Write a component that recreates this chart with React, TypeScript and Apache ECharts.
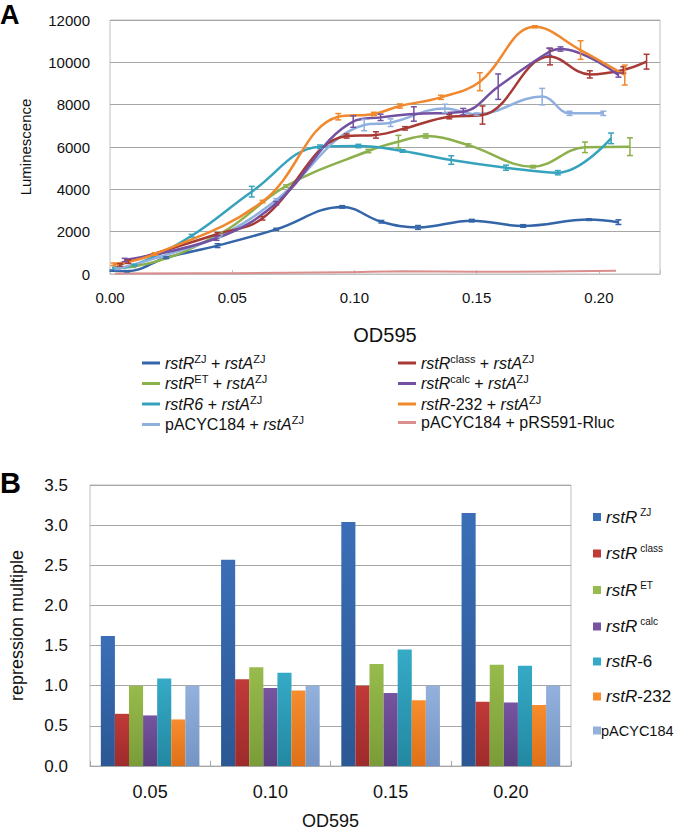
import React, { useEffect, useRef } from "react";
import * as echarts from "echarts";

const FONT = "'Liberation Sans', Arial, sans-serif";

// ---------- Panel A data: [OD595, luminescence, error half-width] ----------
const rstRZJ = [[0.001,160,30],[0.007,130,30],[0.023,770,40],[0.044,1340,90],[0.068,2110,50],[0.095,3170,60],[0.111,2470,60],[0.126,2200,90],[0.148,2520,60],[0.169,2270,60],[0.196,2570,40],[0.208,2450,110]];
const rstRClass = [[0.004,430,60],[0.0075,580,80],[0.044,1890,60],[0.0624,2630,80],[0.0968,6520,100],[0.1088,6570,150],[0.1207,6880,80],[0.1388,7430,100],[0.1524,7510,430],[0.18,10270,390],[0.1963,9430,170],[0.21,9640,150],[0.2195,10030,350]];
const rstRET = [[0.003,300,40],[0.0095,350,40],[0.045,1900,60],[0.072,4150,60],[0.1057,5810,80],[0.118,6250,300],[0.1292,6520,100],[0.1466,6090,60],[0.1731,5070,60],[0.1943,5985,250],[0.2127,6015,420]];
const rstRCalc = [[0.006,660,80],[0.0436,1690,100],[0.068,3340,80],[0.0995,7200,270],[0.1107,7400,150],[0.1243,7560,340],[0.1445,7670,150],[0.1588,8850,600],[0.1797,10500,170],[0.1843,10630,100],[0.208,9400,100]];
const rstR6 = [[0.002,280,40],[0.01,420,40],[0.0334,1810,60],[0.058,3890,250],[0.0859,6015,80],[0.1016,6047,80],[0.1197,5810,60],[0.1396,5385,200],[0.162,5022,120],[0.1832,4786,100],[0.205,6410,250]];
const rstR232 = [[0.0014,460,60],[0.0184,945,60],[0.0624,3420,60],[0.0934,7430,150],[0.108,7560,80],[0.1186,7936,100],[0.1354,8347,100],[0.1513,9085,425],[0.1738,11680,50],[0.1925,10580,440],[0.2106,9400,470]];
const pACYCrstA = [[0.003,250,40],[0.02,800,40],[0.045,1800,60],[0.068,3500,60],[0.104,7040,270],[0.1148,7150,180],[0.137,7820,200],[0.15,7550,60],[0.1768,8380,390],[0.188,7590,100],[0.2018,7590,100]];
const pACYCpRS = [[0.002,20,0],[0.05,40,0],[0.095,80,0],[0.12,130,0],[0.15,110,0],[0.18,120,0],[0.207,150,0]];

const xTicksA = [0, 0.05, 0.1, 0.15, 0.2];

// ---------- Panel B data ----------
const odCategories = ["0.05", "0.10", "0.15", "0.20"];
const barZJ = [1.62, 2.57, 3.04, 3.15];
const barClass = [0.65, 1.08, 1.0, 0.8];
const barET = [1.0, 1.23, 1.27, 1.26];
const barCalc = [0.63, 0.97, 0.91, 0.79];
const bar6 = [1.09, 1.16, 1.45, 1.25];
const bar232 = [0.58, 0.94, 0.82, 0.76];
const barPACYC = [1.0, 1.0, 1.0, 1.0];

const lineSeriesDefs = [
  { name: "zj", data: rstRZJ, color: "#3365A8", label: "{i|rstR}{s|ZJ}{n| + }{i|rstA}{s|ZJ}" },
  { name: "et", data: rstRET, color: "#8CB04C", label: "{i|rstR}{s|ET}{n| + }{i|rstA}{s|ZJ}" },
  { name: "r6", data: rstR6, color: "#36A3BD", label: "{i|rstR6}{n| + }{i|rstA}{s|ZJ}" },
  { name: "pa", data: pACYCrstA, color: "#8FB0DE", label: "{n|pACYC184 + }{i|rstA}{s|ZJ}" },
  { name: "class", data: rstRClass, color: "#A83A36", label: "{i|rstR}{s|class}{n| + }{i|rstA}{s|ZJ}" },
  { name: "calc", data: rstRCalc, color: "#7350A0", label: "{i|rstR}{s|calc}{n| + }{i|rstA}{s|ZJ}" },
  { name: "232", data: rstR232, color: "#F0882E", label: "{i|rstR}{n|-232 + }{i|rstA}{s|ZJ}" },
  { name: "prs", data: pACYCpRS, color: "#DA8E8E", label: "{n|pACYC184 + pRS591-Rluc}" },
];

const barSeriesDefs = [
  { name: "bZJ", data: barZJ, top: "#3A6FB8", bottom: "#2B5793", label: "{i|rstR}{s|ZJ}" },
  { name: "bClass", data: barClass, top: "#C03A38", bottom: "#9E2B2B", label: "{i|rstR}{s|class}" },
  { name: "bET", data: barET, top: "#97BB4C", bottom: "#7A9C38", label: "{i|rstR}{s|ET}" },
  { name: "bCalc", data: barCalc, top: "#7654A0", bottom: "#5A3F80", label: "{i|rstR}{s|calc}" },
  { name: "b6", data: bar6, top: "#35AAC6", bottom: "#2388A2", label: "{i|rstR}{n|-6}" },
  { name: "b232", data: bar232, top: "#F78D2E", bottom: "#DF7018", label: "{i|rstR}{n|-232}" },
  { name: "bPA", data: barPACYC, top: "#93B1DC", bottom: "#7494C4", label: "{p|pACYC184}" },
];

export default function App() {
  const ref = useRef<HTMLDivElement>(null);
  useEffect(() => {
    if (!ref.current) return;
    const chart = echarts.init(ref.current, undefined, { renderer: "svg" });

    const labelMap: Record<string, string> = {};
    lineSeriesDefs.forEach((d) => (labelMap[d.name] = d.label));
    barSeriesDefs.forEach((d) => (labelMap[d.name] = d.label));

    const richA = {
      i: { fontFamily: FONT, fontSize: 16, fontStyle: "italic", lineHeight: 20, color: "#111" },
      n: { fontFamily: FONT, fontSize: 16, lineHeight: 20, color: "#111" },
      s: { fontFamily: FONT, fontSize: 11, lineHeight: 10, verticalAlign: "top", color: "#111" },
    };
    const richB = {
      i: { fontFamily: FONT, fontSize: 17, fontStyle: "italic", lineHeight: 20, color: "#111" },
      n: { fontFamily: FONT, fontSize: 17, lineHeight: 20, color: "#111" },
      p: { fontFamily: FONT, fontSize: 14.5, lineHeight: 20, color: "#111", padding: [0, 0, 0, -5] },
      s: { fontFamily: FONT, fontSize: 10, lineHeight: 8, verticalAlign: "top", color: "#111", padding: [0, 0, 0, 3] },
    };

    const lineSeries: any[] = [];
    const errSeries: any[] = [];
    lineSeriesDefs.forEach((d) => {
      lineSeries.push({
        name: d.name,
        type: "line",
        xAxisIndex: 0,
        yAxisIndex: 0,
        data: d.data.map((p) => [p[0], p[1]]),
        smooth: 0.4,
        showSymbol: false,
        symbol: "none",
        lineStyle: { color: d.color, width: d.name === "prs" ? 2 : 2.5 },
        itemStyle: { color: d.color },
        z: 3,
      });
      const errData = d.data.filter((p) => p[2] > 0).map((p) => [p[0], p[1] - p[2], p[1] + p[2]]);
      if (errData.length) {
        errSeries.push({
          name: d.name + "-err",
          type: "custom",
          xAxisIndex: 0,
          yAxisIndex: 0,
          data: errData,
          encode: { x: 0, y: [1, 2] },
          z: 4,
          renderItem: (params: any, api: any) => {
            const x = api.value(0);
            const p1 = api.coord([x, api.value(1)]);
            const p2 = api.coord([x, api.value(2)]);
            const w = 3;
            const st = { stroke: d.color, lineWidth: 1.5 };
            return {
              type: "group",
              children: [
                { type: "line", shape: { x1: p1[0], y1: p1[1], x2: p2[0], y2: p2[1] }, style: st },
                { type: "line", shape: { x1: p1[0] - w, y1: p1[1], x2: p1[0] + w, y2: p1[1] }, style: st },
                { type: "line", shape: { x1: p2[0] - w, y1: p2[1], x2: p2[0] + w, y2: p2[1] }, style: st },
              ],
            };
          },
        });
      }
    });

    const barSeries = barSeriesDefs.map((d) => ({
      name: d.name,
      type: "bar",
      xAxisIndex: 1,
      yAxisIndex: 1,
      data: d.data,
      barGap: "0%",
      barCategoryGap: "18%",
      itemStyle: {
        color: new echarts.graphic.LinearGradient(0, 0, 0, 1, [
          { offset: 0, color: d.top },
          { offset: 1, color: d.bottom },
        ]),
      },
    }));

    const xTickSet = xTicksA;
    const option: any = {
      animation: false,
      textStyle: { fontFamily: FONT },
      grid: [
        { left: 110, top: 20, width: 550, height: 254, show: true, borderColor: "#BFBFBF", borderWidth: 1 },
        { left: 89, top: 485, width: 482, height: 292, show: true, borderColor: "#BFBFBF", borderWidth: 1 },
      ],
      xAxis: [
        {
          type: "value",
          gridIndex: 0,
          min: 0,
          max: 0.225,
          interval: 0.05,
          name: "OD595",
          nameLocation: "middle",
          nameGap: 51,
          nameTextStyle: { fontFamily: FONT, fontSize: 20, color: "#111" },
          axisLine: { show: true, lineStyle: { color: "#BFBFBF" } },
          axisTick: { show: true, inside: true, length: 4, lineStyle: { color: "#BFBFBF" } },
          splitLine: { show: false },
          axisLabel: {
            fontFamily: FONT,
            fontSize: 15,
            color: "#111",
            margin: 16,
            formatter: (v: number) => (xTickSet.some((t) => Math.abs(t - v) < 1e-9) ? v.toFixed(2) : ""),
          },
        },
        {
          type: "category",
          gridIndex: 1,
          data: odCategories,
          name: "OD595",
          nameLocation: "middle",
          nameGap: 46,
          nameTextStyle: { fontFamily: FONT, fontSize: 18, color: "#111" },
          axisLine: { show: true, lineStyle: { color: "#A6A6A6" } },
          axisTick: { show: true, inside: true, length: 5, lineStyle: { color: "#A6A6A6" } },
          axisLabel: { fontFamily: FONT, fontSize: 18, color: "#111", margin: 17 },
        },
      ],
      yAxis: [
        {
          type: "value",
          gridIndex: 0,
          min: 0,
          max: 12000,
          interval: 2000,
          name: "Luminescence",
          nameLocation: "middle",
          nameGap: 77,
          nameRotate: 90,
          nameTextStyle: { fontFamily: FONT, fontSize: 15, color: "#111" },
          axisLine: { show: false },
          axisTick: { show: false },
          splitLine: { show: true, lineStyle: { color: "#A6A6A6", width: 1 } },
          axisLabel: { fontFamily: FONT, fontSize: 15, color: "#111", margin: 20, formatter: (v: number) => String(Math.round(v)) },
        },
        {
          type: "value",
          gridIndex: 1,
          min: 0,
          max: 3.5,
          interval: 0.5,
          name: "repression multiple",
          nameLocation: "middle",
          nameGap: 64,
          nameRotate: 90,
          nameTextStyle: { fontFamily: FONT, fontSize: 18, color: "#111" },
          axisLine: { show: false },
          axisTick: { show: false },
          splitLine: { show: true, lineStyle: { color: "#A6A6A6", width: 1 } },
          axisLabel: { fontFamily: FONT, fontSize: 17, color: "#111", margin: 22, formatter: (v: number) => v.toFixed(1) },
        },
      ],
      legend: [
        {
          orient: "vertical",
          left: 137,
          top: 348,
          itemGap: 2.5,
          itemWidth: 18,
          itemHeight: 3,
          icon: "rect",
          data: lineSeriesDefs.slice(0, 4).map((d) => ({ name: d.name, itemStyle: { color: d.color } })),
          formatter: (n: string) => labelMap[n],
          textStyle: { rich: richA },
          selectedMode: false,
        },
        {
          orient: "vertical",
          left: 393,
          top: 348,
          itemGap: 2.5,
          itemWidth: 18,
          itemHeight: 3,
          icon: "rect",
          data: lineSeriesDefs.slice(4).map((d) => ({ name: d.name, itemStyle: { color: d.color } })),
          formatter: (n: string) => labelMap[n],
          textStyle: { rich: richA },
          selectedMode: false,
        },
        {
          orient: "vertical",
          left: 588,
          top: 502,
          itemGap: 18,
          itemWidth: 8,
          itemHeight: 8,
          icon: "rect",
          data: barSeriesDefs.map((d) => ({ name: d.name, itemStyle: { color: d.top } })),
          formatter: (n: string) => labelMap[n],
          textStyle: { rich: richB },
          selectedMode: false,
        },
      ],
      graphic: [
        { type: "text", left: 0, top: 1, style: { text: "A", fontFamily: FONT, fontSize: 27, fontWeight: "bold", fill: "#000" } },
        { type: "text", left: 0, top: 468, style: { text: "B", fontFamily: FONT, fontSize: 29, fontWeight: "bold", fill: "#000" } },
      ],
      series: [...lineSeries, ...errSeries, ...barSeries],
    };
    chart.setOption(option);
    return () => chart.dispose();
  }, []);
  return <div ref={ref} style={{ position: "absolute", left: 0, top: 0, width: 680, height: 831, background: "#fff" }} />;
}
